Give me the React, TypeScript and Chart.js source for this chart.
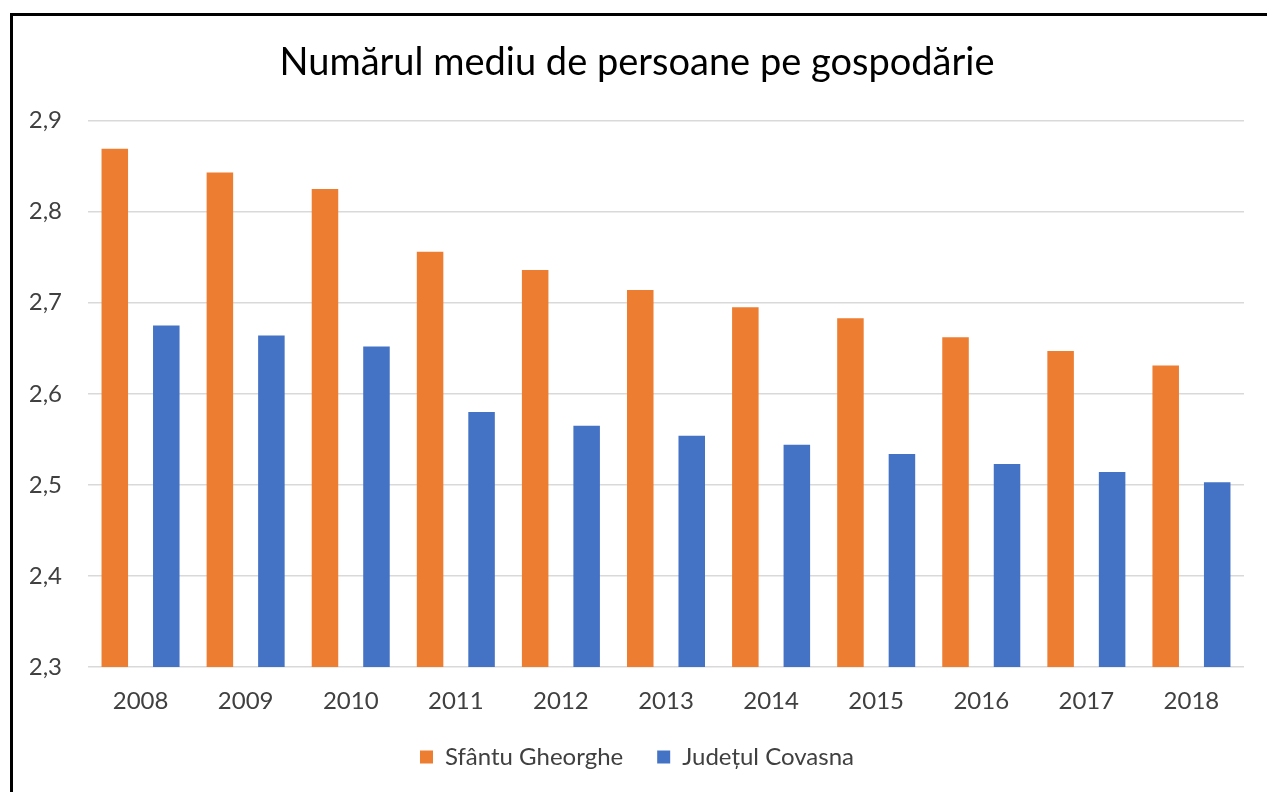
import React, { useEffect, useRef } from "react";
import { Chart, registerables } from "chart.js";

Chart.register(...registerables);

const years = ["2008", "2009", "2010", "2011", "2012", "2013", "2014", "2015", "2016", "2017", "2018"];
const sfantuGheorghe = [2.869, 2.843, 2.825, 2.756, 2.736, 2.714, 2.695, 2.683, 2.662, 2.647, 2.631];
const judetulCovasna = [2.675, 2.664, 2.652, 2.58, 2.565, 2.554, 2.544, 2.534, 2.523, 2.514, 2.503];
const seriesNames = ["Sfântu Gheorghe", "Județul Covasna"];
const titleText = "Numărul mediu de persoane pe gospodărie";

const FONT = "Lato, 'Open Sans', sans-serif";

export default function App() {
  const ref = useRef<HTMLCanvasElement | null>(null);
  useEffect(() => {
    if (!ref.current) return;
    const chart = new Chart(ref.current, {
      type: "bar",
      data: {
        labels: years,
        datasets: [
          {
            label: seriesNames[0],
            data: sfantuGheorghe,
            backgroundColor: "#ED7D31",
            borderWidth: 0,
            categoryPercentage: 0.98,
            barPercentage: 0.515,
          },
          {
            label: seriesNames[1],
            data: judetulCovasna,
            backgroundColor: "#4472C4",
            borderWidth: 0,
            categoryPercentage: 0.98,
            barPercentage: 0.515,
          },
        ],
      },
      options: {
        animation: false,
        responsive: false,
        maintainAspectRatio: false,
        layout: { padding: { left: 17, right: 27, top: 0, bottom: 27 } },
        plugins: {
          title: {
            display: true,
            text: titleText,
            color: "#000000",
            font: { family: FONT, size: 38, weight: "normal" },
            padding: { top: 24, bottom: 35 },
          },
          legend: {
            position: "bottom",
            labels: {
              color: "#404040",
              font: { family: FONT, size: 24 },
              boxWidth: 13,
              boxHeight: 13,
              padding: 34,
            },
          },
          tooltip: { enabled: false },
        },
        scales: {
          x: {
            grid: { display: false, drawTicks: false },
            border: { display: false },
            ticks: {
              color: "#404040",
              font: { family: FONT, size: 24, lineHeight: 1.2 },
              padding: 20,
            },
            afterFit: (scale: any) => {
              scale.height = 44;
            },
          },
          y: {
            min: 2.3,
            max: 2.9,
            grid: { color: "#d9d9d9", lineWidth: 1.5, drawTicks: false },
            border: { display: false },
            ticks: {
              stepSize: 0.1,
              color: "#404040",
              font: { family: FONT, size: 24 },
              padding: 26,
              callback: (v: any) => Number(v).toFixed(1).replace(".", ","),
            },
            afterFit: (scale: any) => {
              scale.width = 58;
            },
          },
        },
      },
    });
    return () => chart.destroy();
  }, []);

  return (
    <div style={{ position: "fixed", left: 0, top: 0, width: 1267, height: 792, overflow: "hidden", background: "#fff" }}>
      <div
        style={{
          position: "absolute",
          left: 10,
          top: 13,
          width: 1400,
          height: 900,
          borderLeft: "3px solid #000",
          borderTop: "3px solid #000",
        }}
      />
      <canvas
        ref={ref}
        width={1258}
        height={790}
        style={{ position: "absolute", left: 13, top: 16, width: 1258, height: 790 }}
      />
    </div>
  );
}
